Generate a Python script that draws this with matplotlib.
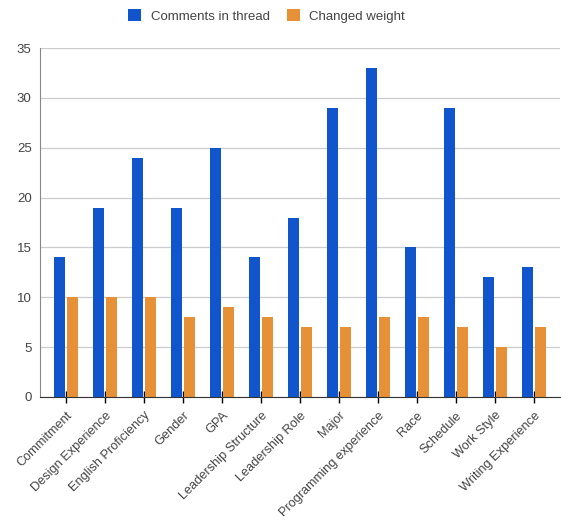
import matplotlib.pyplot as plt
import numpy as np

plt.rcParams['font.family'] = ['Liberation Sans', 'DejaVu Sans']

# Data
categories = ["Commitment", "Design Experience", "English Proficiency", "Gender", "GPA",
              "Leadership Structure", "Leadership Role", "Major", "Programming experience",
              "Race", "Schedule", "Work Style", "Writing Experience"]
comments = [14, 19, 24, 19, 25, 14, 18, 29, 33, 15, 29, 12, 13]
changed = [10, 10, 10, 8, 9, 8, 7, 7, 8, 8, 7, 5, 7]
y_ticks = [0, 5, 10, 15, 20, 25, 30, 35]

BLUE = "#1155cc"
ORANGE = "#e69138"
TEXT = "#444444"

fig = plt.figure(figsize=(5.61, 5.23), dpi=100)
ax = fig.add_axes([0.0713, 0.241, 0.927, 0.667])

x = np.arange(len(categories))
width = 0.28
gap = 0.025
ax.bar(x - width / 2 - gap, comments, width, color=BLUE, label="Comments in thread", zorder=2)
ax.bar(x + width / 2 + gap, changed, width, color=ORANGE, label="Changed weight", zorder=2)

ax.set_xlim(-0.67, len(categories) - 1 + 0.67)
ax.set_ylim(0, 35)
ax.set_yticks(y_ticks)
ax.set_yticklabels([str(v) for v in y_ticks], fontsize=9.5, color=TEXT)
ax.yaxis.grid(True, color="#cccccc", linewidth=0.9, zorder=0)
ax.set_axisbelow(True)
ax.tick_params(axis="y", length=0, pad=6)

ax.set_xticks(x)
ax.set_xticklabels(categories, rotation=45, ha="right", rotation_mode="anchor",
                   fontsize=9.2, color=TEXT)
ax.tick_params(axis="x", direction="inout", length=8, width=1, color="black", pad=5)
for t in ax.xaxis.get_major_ticks():
    t.tick1line.set_zorder(5)

for side in ["top", "right"]:
    ax.spines[side].set_visible(False)
ax.spines["left"].set_color("#888888")
ax.spines["bottom"].set_color("#333333")
ax.spines["bottom"].set_zorder(4)

fig.legend(loc="upper center", bbox_to_anchor=(0.475, 1.005), ncol=2, frameon=False,
           fontsize=9.5, labelcolor=TEXT, handlelength=1.0, handleheight=1.0,
           columnspacing=1.3, handletextpad=0.7)

fig.savefig("out.png", dpi=100)
